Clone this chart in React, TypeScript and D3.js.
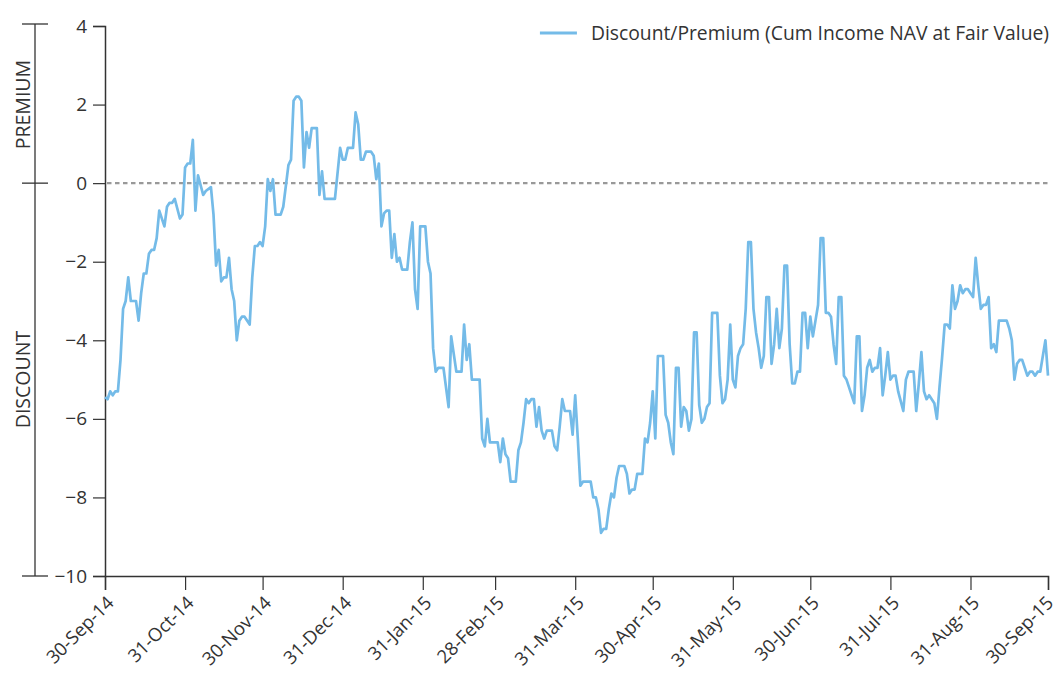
import React, { useEffect, useRef } from 'react';
import * as d3 from 'd3';

// days after 30-Sep-14 for each turning point of the line
const days = [
  0, 1, 2, 3, 4, 5, 6, 7, 8, 9, 10, 12, 13, 14, 15, 16, 17, 18, 19, 20, 21, 23, 24, 25, 26, 27, 29, 30,
  31, 32, 33, 34, 35, 36, 37, 38, 39, 41, 42, 43, 44, 45, 46, 47, 48, 49, 50, 51, 52, 53, 54, 56, 57, 58,
  59, 60, 61, 62, 63, 64, 65, 66, 68, 69, 71, 72, 73, 74, 75, 76, 77, 78, 79, 80, 82, 83, 84, 85, 89, 91,
  92, 93, 94, 96, 97, 98, 99, 100, 101, 103, 104, 105, 106, 107, 108, 109, 110, 111, 112, 113, 114, 115,
  117, 118, 119, 120, 121, 122, 124, 125, 126, 127, 128, 129, 131, 133, 134, 136, 138, 139, 140, 141, 142,
  145, 146, 147, 148, 149, 152, 153, 154, 155, 156, 157, 159, 160, 161, 162, 163, 164, 165, 166, 167, 168,
  169, 170, 171, 173, 174, 175, 176, 177, 178, 180, 181, 182, 183, 184, 185, 188, 189, 190, 191, 192, 193,
  194, 195, 196, 197, 198, 199, 201, 202, 203, 204, 205, 206, 208, 209, 210, 211, 212, 213, 214, 216, 217,
  218, 219, 220, 221, 222, 223, 224, 225, 226, 227, 228, 229, 230, 231, 232, 233, 234, 235, 237, 238, 239,
  240, 241, 242, 243, 244, 245, 246, 247, 248, 249, 250, 251, 252, 253, 254, 255, 256, 257, 258, 259, 260,
  261, 262, 263, 264, 265, 266, 267, 268, 269, 270, 271, 272, 273, 274, 275, 276, 277, 278, 279, 280, 281,
  282, 283, 284, 285, 286, 287, 288, 289, 290, 291, 292, 293, 294, 295, 296, 297, 298, 299, 300, 301, 302,
  303, 304, 305, 306, 307, 308, 309, 310, 311, 313, 314, 315, 316, 317, 318, 319, 320, 321, 322, 323, 324,
  325, 326, 327, 328, 329, 330, 331, 332, 333, 334, 335, 336, 337, 338, 339, 340, 341, 342, 343, 344, 345,
  346, 349, 350, 351, 352, 353, 354, 355, 356, 357, 358, 359, 360, 361, 362, 364, 365
];

const premium = [
  -5.45, -5.5, -5.3, -5.4, -5.3, -5.3, -4.5, -3.2, -3.0, -2.4, -3.0, -3.0, -3.5, -2.8, -2.3, -2.3, -1.8, -1.7, -1.7, -1.4, -0.7, -1.1, -0.6, -0.5, -0.5, -0.4, -0.9, -0.8,
  0.4, 0.5, 0.5, 1.1, -0.7, 0.2, -0.05, -0.3, -0.2, -0.1, -0.8, -2.1, -1.7, -2.5, -2.4, -2.4, -1.9, -2.7, -3.0, -4.0, -3.5, -3.4, -3.4, -3.6, -2.4, -1.6,
  -1.6, -1.5, -1.6, -1.1, 0.1, -0.2, 0.1, -0.8, -0.8, -0.6, 0.46, 0.6, 2.1, 2.2, 2.2, 2.1, 0.4, 1.3, 0.9, 1.4, 1.4, -0.3, 0.3, -0.4, -0.4, 0.9,
  0.6, 0.6, 0.9, 0.9, 1.8, 1.5, 0.6, 0.6, 0.8, 0.8, 0.7, 0.1, 0.5, -1.1, -0.77, -0.7, -0.7, -1.9, -1.3, -2.0, -1.9, -2.2,
  -2.2, -1.5, -1.0, -2.7, -3.2, -1.1, -1.1, -2.0, -2.3, -4.2, -4.8, -4.7, -4.7, -5.7, -3.9, -4.8, -4.8, -3.6, -4.5, -4.1, -5.0,
  -5.0, -6.5, -6.7, -6.0, -6.6, -6.6, -7.1, -6.5, -6.9, -7.0, -7.6, -7.6, -6.8, -6.6, -6.1, -5.5, -5.6, -5.5, -5.5, -6.2, -5.7,
  -6.3, -6.5, -6.3, -6.3, -6.7, -6.8, -6.2, -5.5, -5.8, -5.8, -6.4, -5.4, -6.5, -7.7, -7.6, -7.6, -8.0, -8.0, -8.3, -8.9, -8.8,
  -8.8, -8.3, -7.9, -8.0, -7.5, -7.2, -7.2, -7.4, -7.9, -7.8, -7.8, -7.4, -7.4, -6.5, -6.6, -6.1, -5.3, -6.5, -4.4, -4.4, -5.9,
  -6.1, -6.6, -6.9, -4.7, -4.7, -6.2, -5.7, -5.8, -6.3, -6.0, -3.8, -3.8, -5.65, -6.1, -6.0, -5.7, -5.6, -3.3, -3.3, -4.9, -5.6,
  -5.5, -5.0, -3.6, -5.0, -5.2, -4.4, -4.2, -4.1, -3.2, -1.5, -1.5, -3.2, -3.8, -4.2, -4.7, -4.4, -2.9, -2.9, -4.6, -4.1, -3.2,
  -4.2, -3.7, -2.1, -2.1, -4.1, -5.1, -5.1, -4.8, -4.8, -3.3, -3.3, -4.2, -3.4, -3.9, -3.5, -3.1, -1.4, -1.4, -3.3, -3.3, -3.4,
  -4.1, -4.6, -2.9, -2.9, -4.9, -5.0, -5.2, -5.4, -5.6, -3.9, -3.9, -5.8, -5.4, -4.7, -4.5, -4.8, -4.7, -4.7, -4.2, -5.4, -4.9,
  -4.3, -5.0, -4.9, -4.9, -5.3, -5.55, -5.8, -5.0, -4.8, -4.8, -5.8, -5.1, -4.3, -5.3, -5.5, -5.4, -5.5, -5.6, -6.0, -5.2, -4.45,
  -3.6, -3.6, -3.7, -2.6, -3.2, -3.0, -2.6, -2.8, -2.7, -2.7, -2.8, -2.9, -1.9, -2.6, -3.2, -3.1, -3.1, -2.9, -4.2, -4.1, -4.3,
  -3.5, -3.5, -3.7, -4.0, -5.0, -4.6, -4.5, -4.5, -4.7, -4.9, -4.8, -4.8, -4.9, -4.8, -4.8, -4.0, -4.9
];

const monthEnds = [
  '2014-09-30', '2014-10-31', '2014-11-30', '2014-12-31', '2015-01-31', '2015-02-28', '2015-03-31',
  '2015-04-30', '2015-05-31', '2015-06-30', '2015-07-31', '2015-08-31', '2015-09-30'
];
const yTicks = [-10, -8, -6, -4, -2, 0, 2, 4];
const seriesName = 'Discount/Premium (Cum Income NAV at Fair Value)';

const FONT = '"Open Sans", "Noto Sans", sans-serif';
const INK = '#333333';
const LINE = '#74bbe8';

const App: React.FC = () => {
  const svgRef = useRef<SVGSVGElement>(null);

  useEffect(() => {
    document.body.style.margin = '0';
    const svg = d3.select(svgRef.current);
    svg.selectAll('*').remove();

    const width = 1059;
    const height = 675;
    const left = 105, right = 1048, top = 26, bottom = 576;

    const parse = d3.timeParse('%Y-%m-%d');
    const start = parse('2014-09-30') as Date;
    const data = days.map((d, i) => ({ date: d3.timeDay.offset(start, d), value: premium[i] }));

    const x = d3.scaleTime()
      .domain([start, parse('2015-09-30') as Date])
      .range([left, right]);
    const y = d3.scaleLinear().domain([-10, 4]).range([bottom, top]);

    svg.attr('width', width).attr('height', height)
      .style('font-family', FONT);

    // Y axis
    const yAxis = svg.append('g')
      .attr('transform', `translate(${left},0)`)
      .call(d3.axisLeft(y).tickValues(yTicks).tickSize(12).tickPadding(6)
        .tickFormat(d => d3.format('')(d as number).replace('-', '\u2212')));
    yAxis.select('.domain').attr('stroke', INK).attr('stroke-width', 1.5);
    yAxis.selectAll('.tick line').attr('stroke', INK).attr('stroke-width', 1.2);
    yAxis.selectAll('.tick text')
      .attr('fill', INK)
      .style('font-size', '19px')
      .style('font-family', FONT);

    // X axis
    const xAxis = svg.append('g')
      .attr('transform', `translate(0,${bottom})`)
      .call(d3.axisBottom(x)
        .tickValues(monthEnds.map(s => parse(s) as Date))
        .tickSize(14)
        .tickFormat(d => d3.timeFormat('%d-%b-%y')(d as Date)));
    xAxis.select('.domain').attr('stroke', INK).attr('stroke-width', 1.5);
    xAxis.selectAll('.tick line').attr('stroke', INK).attr('stroke-width', 1.2);
    const nTicks = monthEnds.length;
    xAxis.selectAll('.tick text')
      .attr('fill', INK)
      .attr('text-anchor', 'end')
      .attr('dy', null)
      .attr('y', 0)
      // last label sits against the right edge, nudge it in a little
      .attr('transform', (_d, i) => i === nTicks - 1 ? 'translate(6,28) rotate(-45)' : 'translate(9.5,28) rotate(-45)')
      .style('font-size', '18.5px')
      .style('font-family', FONT);

    // Premium / discount bracket
    const bx = 35;
    const bracket = svg.append('g').attr('stroke', INK).attr('stroke-width', 1.3);
    bracket.append('line').attr('x1', bx).attr('x2', bx).attr('y1', y(4) - 2).attr('y2', y(-10));
    [4, 0, -10].forEach(v => {
      const yy = v === 4 ? y(4) - 2 : y(v);
      bracket.append('line').attr('x1', 22).attr('x2', 48).attr('y1', yy).attr('y2', yy);
    });
    const labels = [
      { text: 'PREMIUM', mid: (y(4) + y(0)) / 2 },
      { text: 'DISCOUNT', mid: (y(0) + y(-10)) / 2 }
    ];
    labels.forEach(l => {
      svg.append('text')
        .attr('transform', `translate(30,${l.mid}) rotate(-90)`)
        .attr('text-anchor', 'middle')
        .attr('fill', INK)
        .style('font-size', '19.5px')
        .text(l.text);
    });

    // Zero line
    svg.append('line')
      .attr('x1', left + 2).attr('x2', right)
      .attr('y1', y(0)).attr('y2', y(0))
      .attr('stroke', '#999999')
      .attr('stroke-width', 2.2)
      .attr('stroke-dasharray', '4.5,3.5');

    // Series line
    const line = d3.line<{ date: Date; value: number }>()
      .x(d => x(d.date))
      .y(d => y(d.value));
    svg.append('path')
      .datum(data)
      .attr('fill', 'none')
      .attr('stroke', LINE)
      .attr('stroke-width', 2.7)
      .attr('stroke-linejoin', 'round')
      .attr('d', line);

    // Legend
    const legend = svg.append('g');
    const legendText = legend.append('text')
      .attr('x', right + 1)
      .attr('y', 40)
      .attr('text-anchor', 'end')
      .attr('fill', INK)
      .style('font-size', '19.3px')
      .text(seriesName);
    const tw = (legendText.node() as SVGTextElement).getComputedTextLength();
    const lx = right + 1 - tw - 14;
    legend.append('line')
      .attr('x1', lx - 37).attr('x2', lx)
      .attr('y1', 33).attr('y2', 33)
      .attr('stroke', LINE)
      .attr('stroke-width', 3);
  }, []);

  return <svg ref={svgRef} style={{ display: 'block' }} />;
};

export default App;
